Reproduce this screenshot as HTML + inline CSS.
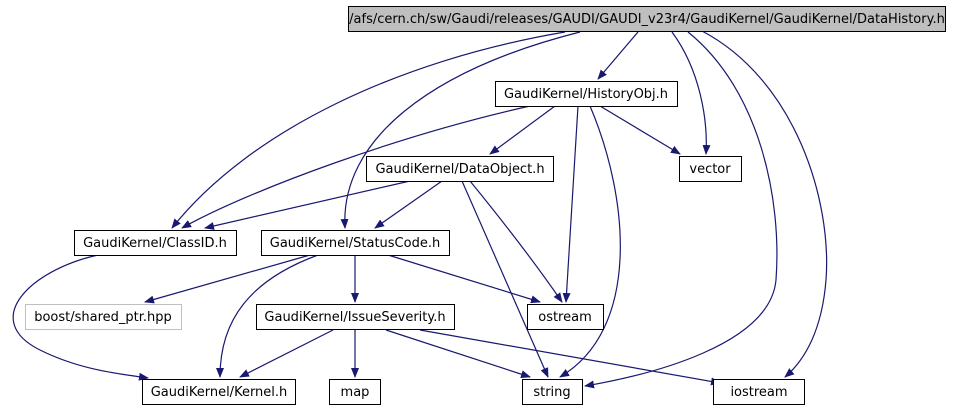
<!DOCTYPE html>
<html><head><style>
html,body{margin:0;padding:0;background:#fff;}
svg{display:block;}
text{font-family:"DejaVu Sans","Liberation Sans",sans-serif;font-size:13px;fill:#000;}
</style></head><body>
<svg width="957" height="411" viewBox="0 0 957 411" xmlns="http://www.w3.org/2000/svg">
<defs><marker id="a" markerWidth="10" markerHeight="8" refX="9" refY="4" orient="auto" markerUnits="userSpaceOnUse"><path d="M0,0 L10,4 L0,8 z" fill="#191970"/></marker></defs>
<g fill="none" stroke="#191970" stroke-width="1.2" marker-end="url(#a)">
<path d="M638,32 L598,79"/>
<path d="M672,32 C700,70 708,120 706,154"/>
<path d="M688,32 C760,90 782,200 776,280 C770,345 650,375 585,386"/>
<path d="M702,31 C795,80 832,200 826,280 C822,330 805,360 785,377"/>
<path d="M565,32 C400,60 250,130 172,228"/>
<path d="M580,32 C430,70 340,140 345,228"/>
<path d="M530,106 C400,135 250,190 182,228"/>
<path d="M555,106 L490,154"/>
<path d="M600,106 L680,154"/>
<path d="M578,106 L566,302"/>
<path d="M590,106 C630,200 640,330 560,377"/>
<path d="M410,181 L205,228"/>
<path d="M442,181 L375,228"/>
<path d="M470,181 C510,230 540,270 562,302"/>
<path d="M462,181 L548,377"/>
<path d="M98,255 C30,270 -20,320 40,350 C80,370 120,374 148,378"/>
<path d="M310,255 L145,302"/>
<path d="M318,255 C250,280 220,320 220,377"/>
<path d="M355,255 L355,302"/>
<path d="M388,255 L540,302"/>
<path d="M333,330 L240,377"/>
<path d="M355,330 L355,377"/>
<path d="M386,330 L530,377"/>
<path d="M420,330 L720,383"/>
</g>
<g stroke="#000" stroke-width="1">
<rect x="348.5" y="6.5" width="597" height="25" fill="#bfbfbf"/>
<rect x="495.5" y="81.5" width="182" height="25" fill="#fff"/>
<rect x="679.5" y="156.5" width="62" height="25" fill="#fff"/>
<rect x="366.5" y="156.5" width="187" height="25" fill="#fff"/>
<rect x="74.5" y="230.5" width="162" height="25" fill="#fff"/>
<rect x="261.5" y="230.5" width="188" height="25" fill="#fff"/>
<rect x="25.5" y="304.5" width="156" height="25" fill="#fff" stroke="#bfbfbf"/>
<rect x="256.5" y="304.5" width="198" height="25" fill="#fff"/>
<rect x="527.5" y="304.5" width="76" height="25" fill="#fff"/>
<rect x="142.5" y="379.5" width="153" height="25" fill="#fff"/>
<rect x="329.5" y="379.5" width="51" height="25" fill="#fff"/>
<rect x="522.5" y="379.5" width="60" height="25" fill="#fff"/>
<rect x="713.5" y="379.5" width="91" height="25" fill="#fff"/>
</g>
<g text-anchor="middle">
<text x="647" y="23">/afs/cern.ch/sw/Gaudi/releases/GAUDI/GAUDI_v23r4/GaudiKernel/GaudiKernel/DataHistory.h</text>
<text x="586" y="98">GaudiKernel/HistoryObj.h</text>
<text x="710" y="173">vector</text>
<text x="460" y="173">GaudiKernel/DataObject.h</text>
<text x="155" y="247">GaudiKernel/ClassID.h</text>
<text x="355" y="247">GaudiKernel/StatusCode.h</text>
<text x="103" y="321">boost/shared_ptr.hpp</text>
<text x="355" y="321">GaudiKernel/IssueSeverity.h</text>
<text x="565" y="321">ostream</text>
<text x="219" y="396">GaudiKernel/Kernel.h</text>
<text x="355" y="396">map</text>
<text x="552" y="396">string</text>
<text x="759" y="396">iostream</text>
</g>
</svg>
</body></html>
